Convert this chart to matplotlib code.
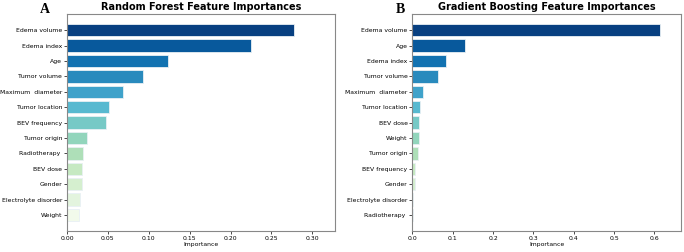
import matplotlib.pyplot as plt
import numpy as np

# Random Forest
rf_features = ['Edema volume', 'Edema index', 'Age', 'Tumor volume', 'Maximum  diameter',
               'Tumor location', 'BEV frequency', 'Tumor origin', 'Radiotherapy ', 'BEV dose',
               'Gender', 'Electrolyte disorder', 'Weight']
rf_values = [0.278, 0.225, 0.123, 0.093, 0.068, 0.051, 0.048, 0.025, 0.019, 0.018, 0.018, 0.016, 0.015]

# Gradient Boosting
gb_features = ['Edema volume', 'Age', 'Edema index', 'Tumor volume', 'Maximum  diameter',
               'Tumor location', 'BEV dose', 'Weight', 'Tumor origin', 'BEV frequency',
               'Gender', 'Electrolyte disorder', 'Radiotherapy ']
gb_values = [0.614, 0.131, 0.082, 0.064, 0.025, 0.018, 0.0155, 0.015, 0.014, 0.0075, 0.007, 0.002, 0.0005]

fig = plt.figure(figsize=(6.84, 2.52), dpi=100)
colors = plt.cm.GnBu_r(np.linspace(0.0, 0.97, 13))


def draw(ax, feats, vals, title, xmax, ticks, fmt):
    y = np.arange(len(feats))
    ax.barh(y, vals, height=0.8, color=colors, edgecolor='#e8f0f4', linewidth=0.6)
    ax.set_yticks(y)
    ax.set_yticklabels(feats)
    ax.invert_yaxis()
    ax.set_xlim(0, xmax)
    ax.set_xticks(ticks)
    ax.set_xticklabels([fmt % t for t in ticks])
    ax.set_xlabel('Importance', fontsize=4.4, labelpad=1)
    ax.set_title(title, fontsize=7, fontweight='bold', pad=3)
    ax.tick_params(labelsize=4.4, length=2, width=0.5, pad=1.5)
    for s in ax.spines.values():
        s.set_color('#888888')
        s.set_linewidth(0.8)


ax1 = fig.add_axes([0.098, 0.083, 0.392, 0.861])
draw(ax1, rf_features, rf_values, 'Random Forest Feature Importances', 0.328,
     [0, 0.05, 0.10, 0.15, 0.20, 0.25, 0.30], '%.2f')
ax2 = fig.add_axes([0.603, 0.083, 0.392, 0.861])
draw(ax2, gb_features, gb_values, 'Gradient Boosting Feature Importances', 0.665,
     [0, 0.1, 0.2, 0.3, 0.4, 0.5, 0.6], '%.1f')

fig.text(0.066, 0.963, 'A', fontsize=10, fontweight='bold', family='Liberation Serif', va='center', ha='center')
fig.text(0.585, 0.963, 'B', fontsize=10, fontweight='bold', family='Liberation Serif', va='center', ha='center')

plt.savefig('out.png', dpi=100)
